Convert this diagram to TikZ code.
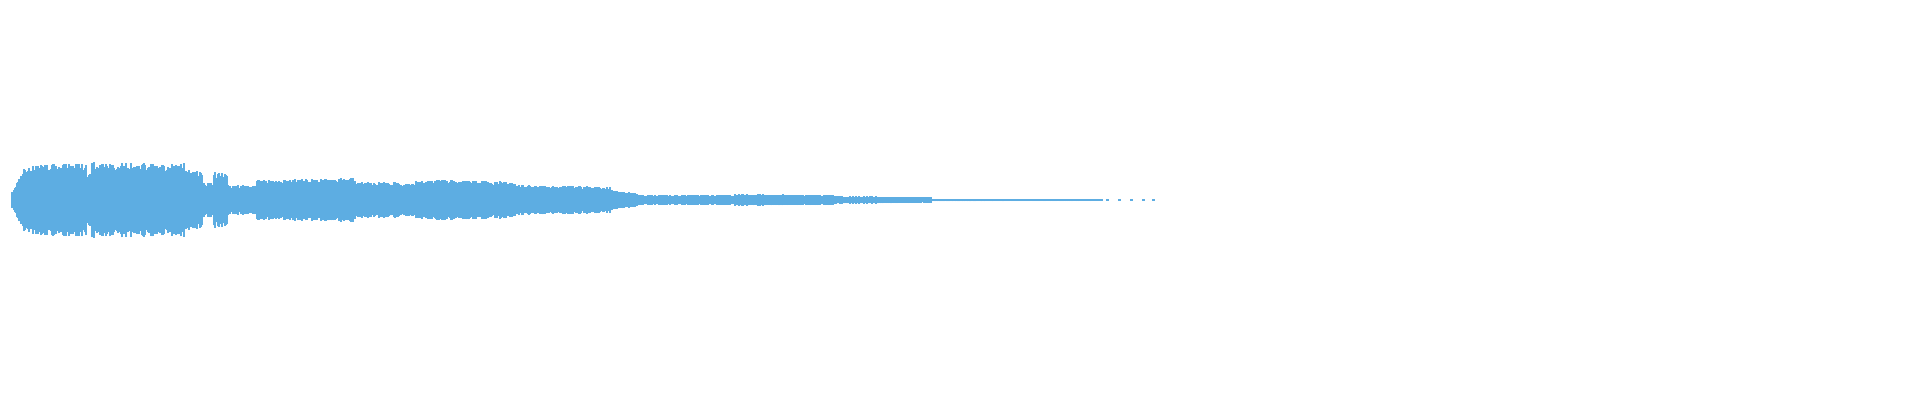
\documentclass[tikz,border=0pt]{standalone}
\definecolor{wavecolor}{RGB}{93,173,226}
\tikzset{wavestroke/.style={draw=wavecolor,line width=1.6pt}}
\begin{document}
\begin{tikzpicture}[x=0.01cm,y=0.01cm]
\useasboundingbox (0,0) rectangle (1920,400);
\pgfmathsetseed{7}
% envelope segments: x0/x1/h0/h1
\foreach \xa/\xb/\ha/\hb in {12/24/8/31, 24/86/35/37, 86/92/30/26, 92/184/38/37,
  184/202/33/28, 202/214/18/18, 214/227/28/26, 227/257/15/15, 257/355/20/22,
  355/416/18/18, 416/514/21/19, 514/612/16/13, 612/637/10/7, 637/735/5/5,
  735/833/6/5, 833/931/4/3, 931/1102/1.5/1}{
  \foreach \x in {\xa,...,\xb}{
    \pgfmathsetmacro{\h}{(\ha+(\hb-\ha)*(\x-\xa)/(\xb-\xa+0.001))*(0.78+0.22*rnd)}
    \draw[wavecolor,line width=0.6pt] (\x,200-\h) -- (\x,200+\h);
  }
}
% trailing specks
\foreach \x in {1106,1118,1130,1142,1152}
  \draw[wavecolor,line width=0.5pt] (\x,200) -- (\x+3,200);
\end{tikzpicture}
\end{document}
